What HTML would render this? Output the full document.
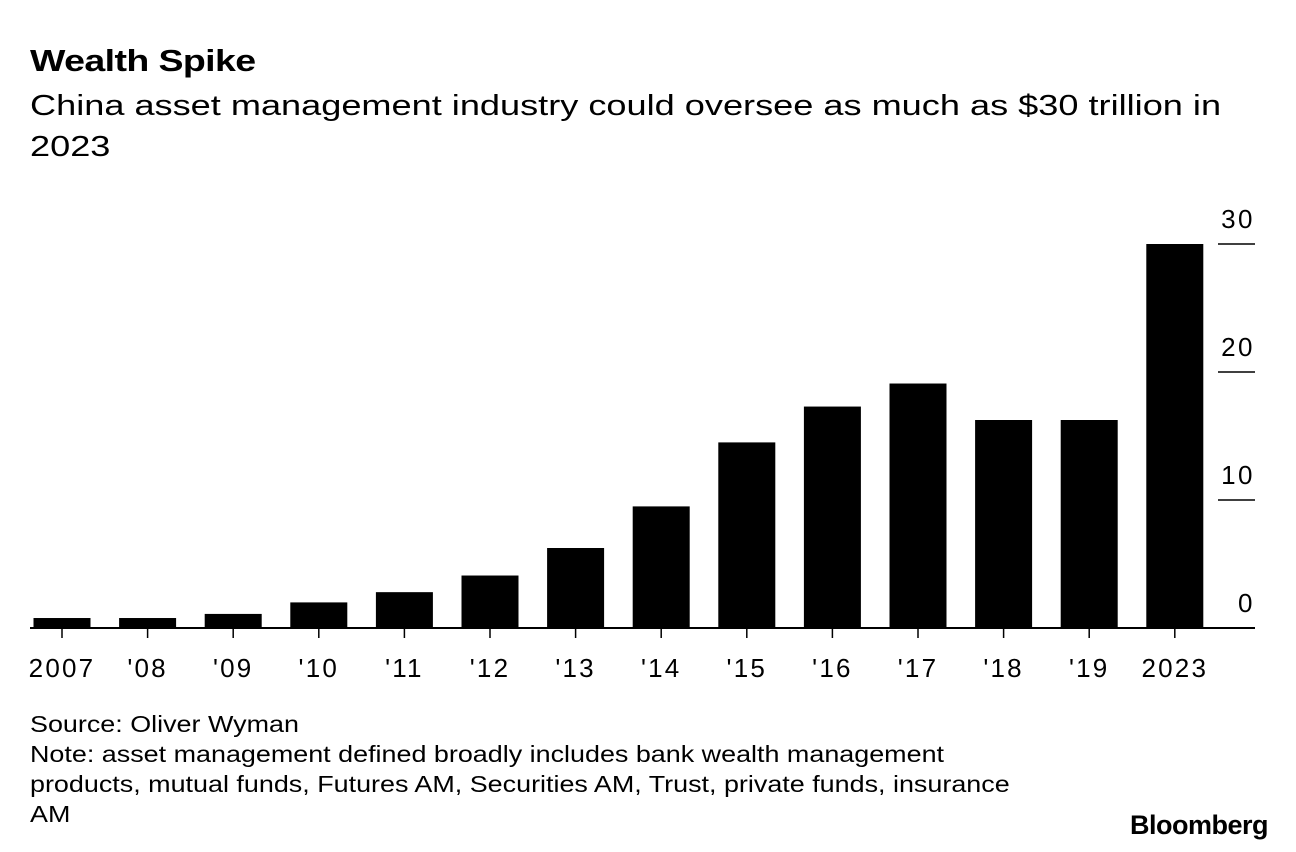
<!DOCTYPE html>
<html><head><meta charset="utf-8"><style>
body{margin:0;background:#fff;width:1296px;height:852px;overflow:hidden;font-family:"Liberation Sans",Arial,sans-serif;color:#000}
.t{position:absolute;left:30px;white-space:nowrap;transform-origin:0 0}
</style></head><body>
<div class="t" style="top:43px;font-size:31px;font-weight:bold;letter-spacing:-0.5px;transform:scaleX(1.21)">Wealth Spike</div>
<div class="t" style="top:86px;font-size:29px;line-height:41px;transform:scaleX(1.246)">China asset management industry could oversee as much as $30 trillion in<br>2023</div>
<svg id="chart" width="1296" height="852" style="position:absolute;left:0;top:0"></svg>
<div class="t" style="top:709px;font-size:23px;line-height:30px;transform:scaleX(1.17)">Source: Oliver Wyman<br>Note: asset management defined broadly includes bank wealth management<br>products, mutual funds, Futures AM, Securities AM, Trust, private funds, insurance<br>AM</div>
<div style="position:absolute;right:28px;top:810px;font-size:27px;font-weight:bold;letter-spacing:-0.5px">Bloomberg</div>
<script>
const categories=["2007","'08","'09","'10","'11","'12","'13","'14","'15","'16","'17","'18","'19","2023"];
const values=[0.78,0.78,1.1,2.0,2.8,4.1,6.25,9.5,14.5,17.3,19.1,16.25,16.25,30];
const ticks=[0,10,20,30];
const svg=document.getElementById('chart');
const NS='http://www.w3.org/2000/svg';
const y=v=>628-v*12.8;
const x=i=>62+i*85.6;
function mk(t,a){const e=document.createElementNS(NS,t);for(const k in a)e.setAttribute(k,a[k]);svg.appendChild(e);return e;}
ticks.forEach(v=>{
 const l=mk('line',{x1:1218,x2:1255,y1:y(v),y2:y(v),stroke:'#000','stroke-width':1.5});
 
 
 const t=mk('text',{x:1255,y:y(v)-16,'text-anchor':'end','font-size':26,'letter-spacing':2.5,'font-family':'Liberation Sans, sans-serif'});
 t.textContent=v;
 
 
});
values.forEach((v,i)=>{
 const r=mk('rect',{x:x(i)-28.5,y:y(v),width:57,height:628-y(v),fill:'#000'});
 
 
 const tk=mk('line',{x1:x(i),x2:x(i),y1:628,y2:638,stroke:'#000','stroke-width':1.5});
 
 
 const t=mk('text',{x:x(i),y:677,'text-anchor':'middle','font-size':26,'letter-spacing':2.2,'font-family':'Liberation Sans, sans-serif'});
 t.textContent=categories[i];
 
 
});
const b=mk('line',{x1:30,x2:1255,y1:628,y2:628,stroke:'#000','stroke-width':2});


</script>
</body></html>
